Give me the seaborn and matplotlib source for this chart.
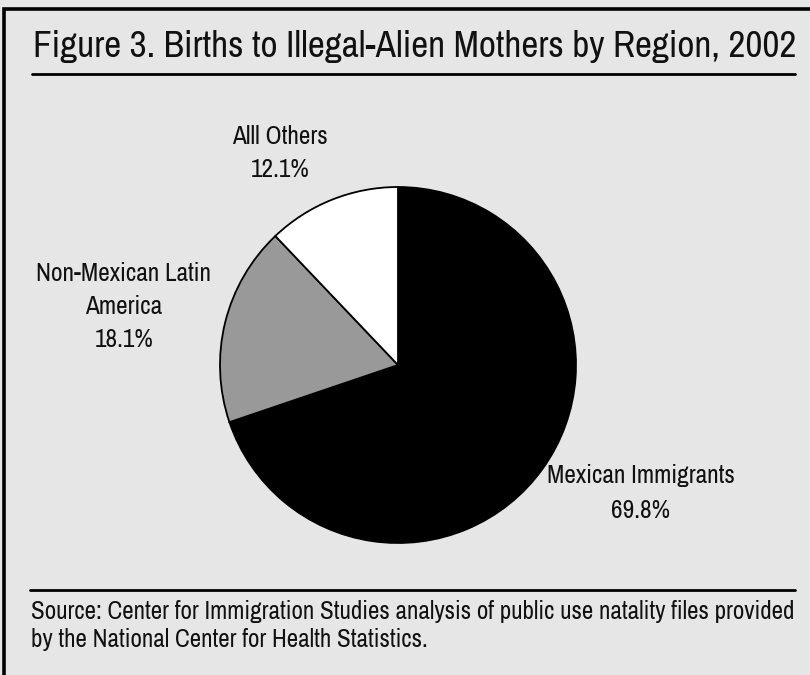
import matplotlib
matplotlib.use("Agg")
import matplotlib.pyplot as plt
import seaborn as sns
from matplotlib.patches import Rectangle
from matplotlib.lines import Line2D

categories = ["Mexican Immigrants", "Non-Mexican Latin\nAmerica", "Alll Others"]
values = [69.8, 18.1, 12.1]
colors = ["#000000", "#999999", "#ffffff"]
title = "Figure 3. Births to Illegal-Alien Mothers by Region, 2002"
source_lines = ["Source: Center for Immigration Studies analysis of public use natality files provided",
                "by the National Center for Health Statistics."]

sns.set_theme(style="white")
FONT = ["Liberation Sans Narrow", "Archivo Narrow", "Roboto Condensed", "Liberation Sans", "DejaVu Sans"]
plt.rcParams["font.family"] = FONT

W, H = 810, 675
fig = plt.figure(figsize=(W / 100, H / 100), dpi=100, facecolor="#e6e6e6")
renderer = fig.canvas.get_renderer()

def fx(x):
    return x / W

def fy(y):
    return 1 - y / H

def fit_size(s, width_px, base=20):
    t = fig.text(0, 0, s, fontsize=base)
    w = t.get_window_extent(renderer).width
    t.remove()
    return base * width_px / w

TXT = "#111111"

# outer border (extends past right/bottom edges like the reference)
fig.add_artist(Rectangle((fx(4), fy(720)), fx(840), (720 - 9) / H,
                         transform=fig.transFigure, facecolor="none",
                         edgecolor="black", linewidth=2.6))

# title, baseline at y=57
ts = fit_size(title, 763)
fig.text(fx(33), fy(57), title, fontsize=ts, color=TXT, va="baseline", ha="left")
fig.add_artist(Line2D([fx(32), fx(795)], [fy(73.5), fy(73.5)], color="black", linewidth=2.0,
                      transform=fig.transFigure))
fig.add_artist(Line2D([fx(30), fx(795)], [fy(590), fy(590)], color="black", linewidth=2.0,
                      transform=fig.transFigure))
ss = fit_size(source_lines[0], 764)
for i, line in enumerate(source_lines):
    fig.text(fx(31), fy(619 + i * 28), line, fontsize=ss, color=TXT, va="baseline", ha="left")

cx, cy, r = 398, 365, 178
ax = fig.add_axes([fx(cx - r), fy(cy + r), 2 * r / W, 2 * r / H])
ax.pie(values, colors=colors, startangle=90, counterclock=False,
       wedgeprops=dict(edgecolor="black", linewidth=1.3))
ax.set_xlim(-1.0, 1.0)
ax.set_ylim(-1.0, 1.0)
ax.set_aspect("auto")
ax.axis("off")

ls = fit_size("Mexican Immigrants", 188)
# (center x, first baseline y, pitch)
label_pos = [(641, 483, 35), (124, 281, 33), (280, 144, 33)]
for cat, val, (lx, ly, pitch) in zip(categories, values, label_pos):
    lines = cat.split("\n") + [f"{val:.1f}%"]
    for i, line in enumerate(lines):
        fig.text(fx(lx), fy(ly + i * pitch), line, fontsize=ls, color=TXT,
                 ha="center", va="baseline")

fig.savefig("out.png", dpi=100, facecolor=fig.get_facecolor())
